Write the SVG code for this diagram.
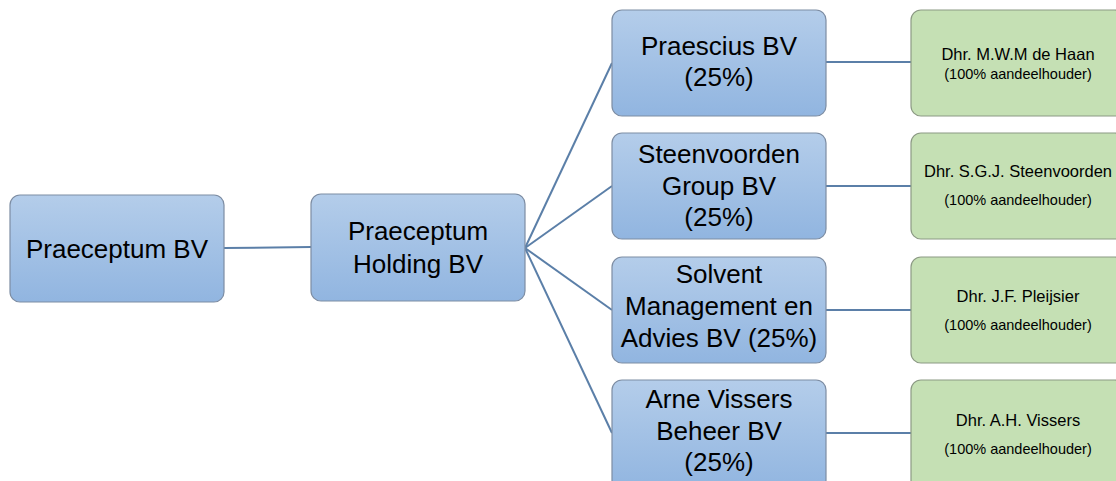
<svg xmlns="http://www.w3.org/2000/svg" width="1116" height="481" viewBox="0 0 1116 481">
<defs>
<linearGradient id="blue" x1="0" y1="0" x2="0" y2="1">
<stop offset="0" stop-color="#b4cdea"/>
<stop offset="1" stop-color="#91b5e0"/>
</linearGradient>
<style>
.b{fill:url(#blue);stroke:#7d8da3;stroke-width:1.2}
.g{fill:#c5e0b4;stroke:#8c9a84;stroke-width:1.2}
.t{font-family:"Liberation Sans",Arial,sans-serif;font-size:26px;fill:#000;text-anchor:middle}
.n{font-family:"Liberation Sans",Arial,sans-serif;font-size:16.5px;fill:#000;text-anchor:middle}
.s{font-family:"Liberation Sans",Arial,sans-serif;font-size:14.5px;fill:#000;text-anchor:middle}
.c{stroke:#5b7fa8;stroke-width:2;fill:none}
</style>
</defs>
<rect width="1116" height="481" fill="#fff"/>
<g id="connectors" class="c">
<line x1="224" y1="248" x2="311" y2="247"/>
<line x1="525" y1="248" x2="612" y2="63"/>
<line x1="525" y1="248" x2="612" y2="186"/>
<line x1="525" y1="248" x2="612" y2="310"/>
<line x1="525" y1="248" x2="612" y2="433"/>
<line x1="826" y1="62" x2="911" y2="62"/>
<line x1="826" y1="186" x2="911" y2="186"/>
<line x1="826" y1="310" x2="911" y2="310"/>
<line x1="826" y1="433" x2="911" y2="433"/>
</g>
<g id="praeceptum-bv">
<rect class="b" x="10" y="195" width="214" height="107" rx="10"/>
<text class="t" x="117" y="258">Praeceptum BV</text>
</g>
<g id="praeceptum-holding">
<rect class="b" x="311" y="194" width="214" height="107" rx="10"/>
<text class="t" x="418" y="240">Praeceptum</text>
<text class="t" x="418" y="273">Holding BV</text>
</g>
<g id="praescius">
<rect class="b" x="612" y="10" width="214" height="106" rx="10"/>
<text class="t" x="719" y="55">Praescius BV</text>
<text class="t" x="719" y="86">(25%)</text>
</g>
<g id="steenvoorden">
<rect class="b" x="612" y="133" width="214" height="106" rx="10"/>
<text class="t" x="719" y="163">Steenvoorden</text>
<text class="t" x="719" y="195">Group BV</text>
<text class="t" x="719" y="226">(25%)</text>
</g>
<g id="solvent">
<rect class="b" x="612" y="257" width="214" height="106" rx="10"/>
<text class="t" x="719" y="283">Solvent</text>
<text class="t" x="719" y="315">Management en</text>
<text class="t" x="719" y="347">Advies BV (25%)</text>
</g>
<g id="arne-vissers">
<rect class="b" x="612" y="380" width="214" height="110" rx="10"/>
<text class="t" x="719" y="408">Arne Vissers</text>
<text class="t" x="719" y="440">Beheer BV</text>
<text class="t" x="719" y="471">(25%)</text>
</g>
<g id="de-haan">
<rect class="g" x="911" y="10" width="214" height="106" rx="10"/>
<text class="n" x="1018" y="60">Dhr. M.W.M de Haan</text>
<text class="s" x="1018" y="79">(100% aandeelhouder)</text>
</g>
<g id="s-steenvoorden">
<rect class="g" x="911" y="133" width="214" height="106" rx="10"/>
<text class="n" x="1018" y="177">Dhr. S.G.J. Steenvoorden</text>
<text class="s" x="1018" y="205">(100% aandeelhouder)</text>
</g>
<g id="pleijsier">
<rect class="g" x="911" y="257" width="214" height="106" rx="10"/>
<text class="n" x="1018" y="302">Dhr. J.F. Pleijsier</text>
<text class="s" x="1018" y="330">(100% aandeelhouder)</text>
</g>
<g id="vissers">
<rect class="g" x="911" y="380" width="214" height="110" rx="10"/>
<text class="n" x="1018" y="426">Dhr. A.H. Vissers</text>
<text class="s" x="1018" y="454">(100% aandeelhouder)</text>
</g>
</svg>
